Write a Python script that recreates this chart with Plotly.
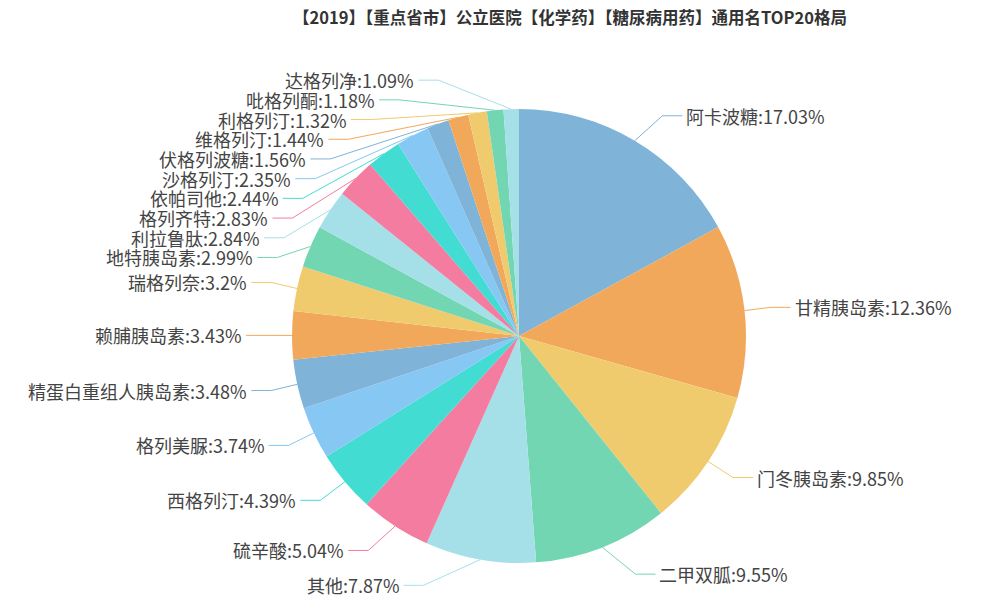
import math
import plotly.graph_objects as go

# ---------------- data ----------------
names = ["阿卡波糖", "甘精胰岛素", "门冬胰岛素", "二甲双胍", "其他", "硫辛酸", "西格列汀",
         "格列美脲", "精蛋白重组人胰岛素", "赖脯胰岛素", "瑞格列奈", "地特胰岛素", "利拉鲁肽",
         "格列齐特", "依帕司他", "沙格列汀", "伏格列波糖", "维格列汀", "利格列汀", "吡格列酮",
         "达格列净"]
values = [17.03, 12.36, 9.85, 9.55, 7.87, 5.04, 4.39, 3.74, 3.48, 3.43, 3.2, 2.99, 2.84,
          2.83, 2.44, 2.35, 1.56, 1.44, 1.32, 1.18, 1.09]
palette = ["#7fb3d7", "#f2a85b", "#f0cb6e", "#72d6b3", "#a5e0e8", "#f37ca0", "#43dcd2", "#87c7f3"]
title_text = "【2019】【重点省市】公立医院【化学药】【糖尿病用药】通用名TOP20格局"

# ---------------- geometry (pixels) ----------------
W, H = 982, 605
CX, CY, R = 519, 336, 227
LEN1, LEN2 = 29, 20
LINE_H = 19.7
FONT_SIZE = 18

colors = [palette[i % len(palette)] for i in range(len(values))]
total = sum(values)

# natural label positions (echarts-like)
items = []
cum = 0.0
for i, (n, v) in enumerate(zip(names, values)):
    mid = (cum + v / 2) / total * 2 * math.pi
    cum += v
    s, c = math.sin(mid), math.cos(mid)
    x1, y1 = CX + R * s, CY - R * c
    x2, y2 = CX + (R + LEN1) * s, CY - (R + LEN1) * c
    d = -1 if s < 0 else 1
    x3 = x2 + d * LEN2
    items.append(dict(i=i, x=x3 + d * 5, y=y2, h=LINE_H, x1=x1, y1=y1, dir=d))


def adjust_side(lst, d):
    lst.sort(key=lambda a: a["y"])
    n = len(lst)
    # push overlapping labels downward
    for k in range(1, n):
        lo = lst[k - 1]["y"] + lst[k - 1]["h"]
        if lst[k]["y"] < lo:
            lst[k]["y"] = lo
    # keep inside the view at the bottom
    if n and lst[-1]["y"] + lst[-1]["h"] > H:
        lst[-1]["y"] = H - lst[-1]["h"]
        for k in range(n - 2, -1, -1):
            hi = lst[k + 1]["y"] - lst[k]["h"]
            if lst[k]["y"] > hi:
                lst[k]["y"] = hi
            else:
                break

    up = [a for a in lst if a["y"] < CY]
    down = [a for a in lst if a["y"] >= CY]

    def change_x(sub, is_down):
        last_dx = float("inf") if is_down else 0
        for a in sub:
            dy = abs(a["y"] - CY)
            if dy < R + LEN1:
                dx = math.sqrt((R + LEN1 + LEN2) ** 2 - dy * dy)
            else:
                dx = abs(a["x"] - CX)
            if is_down and dx >= last_dx:
                dx = last_dx - 10
            if (not is_down) and dx <= last_dx:
                dx = last_dx + 10
            a["x"] = CX + dx * d
            last_dx = dx

    change_x(up, False)
    change_x(down, True)


adjust_side([a for a in items if a["dir"] < 0], -1)
adjust_side([a for a in items if a["dir"] > 0], 1)

fig = go.Figure()

for a in items:
    d = a["dir"]
    p3x = a["x"] - 3 * d
    p2x = p3x - LEN2 * d
    fig.add_trace(go.Scatter(
        x=[a["x1"], p2x, p3x], y=[a["y1"], a["y"], a["y"]],
        mode="lines", line=dict(color=colors[a["i"]], width=1),
        hoverinfo="skip", showlegend=False, xaxis="x", yaxis="y"))
    fig.add_annotation(
        x=a["x"], y=a["y"], xref="x", yref="y",
        text=f"{names[a['i']]}:{values[a['i']]:g}%",
        showarrow=False, xanchor="left" if d > 0 else "right", yanchor="middle",
        borderpad=0,
        font=dict(size=FONT_SIZE, color="#444444", family="Noto Sans CJK SC"))

fig.add_trace(go.Pie(
    labels=names, values=values, sort=False, direction="clockwise", rotation=0,
    marker=dict(colors=colors, line=dict(width=0)),
    textinfo="none", showlegend=False,
    domain=dict(x=[(CX - R) / W, (CX + R) / W], y=[1 - (CY + R) / H, 1 - (CY - R) / H]),
))

fig.update_layout(
    width=W, height=H,
    margin=dict(l=0, r=0, t=0, b=0),
    paper_bgcolor="white", plot_bgcolor="rgba(0,0,0,0)",
    xaxis=dict(range=[0, W], visible=False, fixedrange=True, domain=[0, 1]),
    yaxis=dict(range=[H, 0], visible=False, fixedrange=True, domain=[0, 1]),
    title=dict(text=f"<b>{title_text}</b>", x=570 / W, xanchor="center",
               y=1 - 18 / H, yanchor="middle", yref="container",
               font=dict(size=16.5, color="#333333", family="Noto Sans CJK SC")),
)

fig.write_html("out.html")
